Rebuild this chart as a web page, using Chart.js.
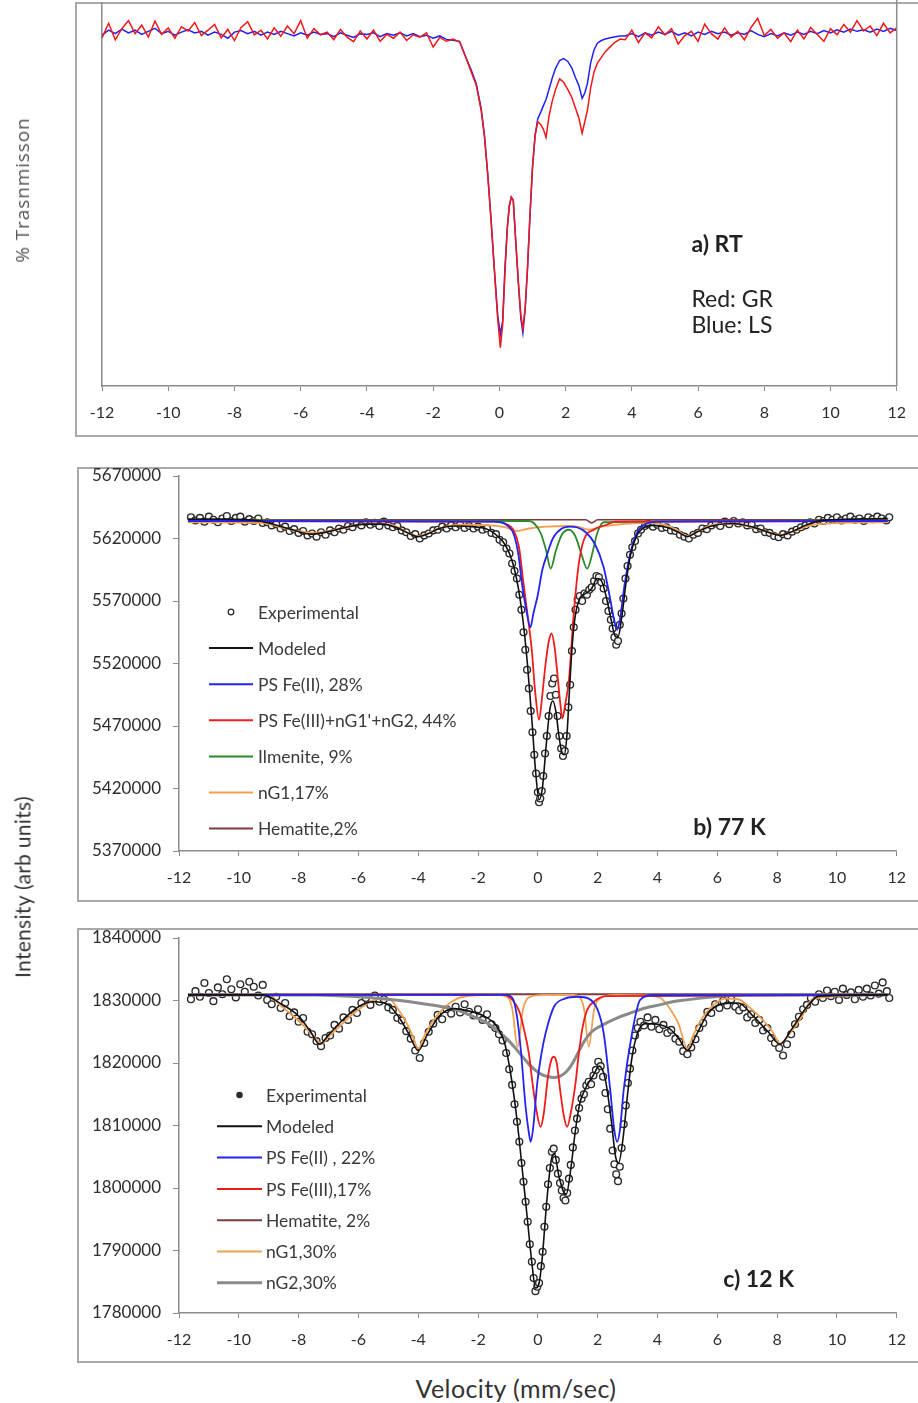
<!DOCTYPE html>
<html>
<head>
<meta charset="utf-8">
<script src="https://cdn.jsdelivr.net/npm/chart.js@4.4.1/dist/chart.umd.min.js"></script>
<style>
   html, body { margin: 0; padding: 0; background: #fff; }
   body { width: 918px; height: 1403px; position: relative; overflow: hidden; font-family: Lato, sans-serif; }
   .frame { position: absolute; border: 2px solid #a9a9a9; box-sizing: border-box; }
   canvas { position: absolute; left: 0; }
   .title { position: absolute; color: #333; white-space: nowrap; }
   .vert { transform: translate(-50%, -50%) rotate(-90deg); }
</style>
</head>
<body>
<div class="frame" style="left:75px; top:2px; width:900px; height:435px"></div>
<div class="frame" style="left:77px; top:467px; width:900px; height:435px"></div>
<div class="frame" style="left:77px; top:928px; width:900px; height:435px"></div>
<canvas id="chart-a" width="918" height="440" style="top:0"></canvas>
<canvas id="chart-b" width="918" height="435" style="top:468px"></canvas>
<canvas id="chart-c" width="918" height="435" style="top:929px"></canvas>
<div class="title vert" style="left:22px; top:190px; font-family:'Open Sans'; font-size:19px; letter-spacing:0.9px; color:#555">% Trasnmisson</div>
<div class="title vert" style="left:22px; top:887px; font-size:21px; letter-spacing:0.3px">Intensity (arb units)</div>
<div class="title" style="left:516px; top:1388px; transform:translate(-50%,-50%); font-size:25px; letter-spacing:0.4px">Velocity (mm/sec)</div>
<script>
// ---------- a) RT : % transmission (arbitrary scale) ----------
const velA = [
   -12, -11.8, -11.6, -11.4, -11.2, -11, -10.8, -10.6, -10.4, -10.2,
   -10, -9.8, -9.6, -9.4, -9.2, -9, -8.8, -8.6, -8.4, -8.2,
   -8, -7.8, -7.6, -7.4, -7.2, -7, -6.8, -6.6, -6.4, -6.2,
   -6, -5.8, -5.6, -5.4, -5.2, -5, -4.8, -4.6, -4.4, -4.2,
   -4, -3.8, -3.6, -3.4, -3.2, -3, -2.8, -2.6, -2.4, -2.2,
   -2, -1.8, -1.6, -1.4,
   -1.2, -1.0, -0.85, -0.7, -0.55, -0.45, -0.35, -0.25, -0.15, -0.05,
   0.03, 0.1, 0.17, 0.24, 0.3, 0.36, 0.42, 0.5, 0.58, 0.65,
   0.71, 0.78, 0.85, 0.92, 1.0, 1.08, 1.16, 1.25, 1.33, 1.41,
   1.5, 1.6, 1.7, 1.82, 1.94, 2.06, 2.18, 2.3, 2.4, 2.5,
   2.58, 2.66, 2.76, 2.86, 2.96, 3.08, 3.2, 3.35, 3.5, 3.65,
   3.8, 4, 4.2, 4.4, 4.6, 4.8, 5, 5.2, 5.4, 5.6,
   5.8, 6, 6.2, 6.4, 6.6, 6.8, 7, 7.2, 7.4, 7.6,
   7.8, 8, 8.2, 8.4, 8.6, 8.8, 9, 9.2, 9.4, 9.6,
   9.8, 10, 10.2, 10.4, 10.6, 10.8, 11, 11.2, 11.4, 11.6,
   11.8, 12,
];
const transRed = [
   90.9, 94.7, 90.4, 93.3, 95.4, 92.0, 94.2, 91.1, 95.3, 91.8,
   93.5, 90.8, 93.8, 92.7, 94.9, 91.5, 92.9, 94.4, 90.9, 93.1,
   90.2, 93.6, 95.1, 91.7, 92.9, 90.6, 93.5, 91.3, 94.0, 92.0,
   95.4, 90.8, 93.3, 91.7, 92.4, 90.4, 93.1, 91.1, 89.9, 92.7,
   90.6, 92.9, 90.0, 91.8, 90.8, 92.4, 90.2, 91.7, 91.1, 92.2,
   88.5, 91.0, 90.0, 90.6,
   89.8, 85.5, 82.0, 78.6, 72.0, 65.0, 55.0, 43.0, 30.0, 17.5,
   10.0, 16.0, 30.0, 41.0, 47.0, 49.3, 48.5, 37.0, 26.5, 18.5,
   15.0, 20.5, 31.0, 44.0, 57.0, 65.5, 69.0, 68.3, 67.0, 64.9,
   70.5, 74.5, 77.5, 80.2, 79.3, 77.5, 75.5, 72.5, 70.0, 66.0,
   69.0, 72.0, 78.0, 82.0, 84.3, 85.8, 87.3, 88.6, 89.8, 90.6,
   90.4, 92.9, 89.7, 92.2, 90.9, 93.8, 91.7, 93.3, 89.3, 91.5,
   92.6, 90.0, 94.5, 92.0, 90.6, 93.5, 91.1, 92.6, 90.4, 93.6,
   96.0, 91.5, 93.1, 90.8, 92.2, 89.9, 92.9, 90.6, 93.6, 91.8,
   90.0, 93.3, 91.7, 94.4, 92.4, 95.4, 92.7, 94.0, 91.5, 94.7,
   92.2, 93.5,
];
const transBlue = [
   91.6, 92.9, 92.0, 93.2, 92.2, 92.9, 91.8, 92.6, 93.4, 92.0,
   92.6, 91.6, 92.4, 93.0, 92.2, 92.6, 91.6, 92.4, 91.8, 90.8,
   92.4, 92.8, 92.0, 92.6, 91.6, 92.4, 91.8, 92.6, 92.0, 91.4,
   92.2, 91.6, 92.4, 91.8, 92.0, 91.2, 92.2, 91.6, 91.0, 92.0,
   91.8, 92.2, 91.2, 92.0, 91.6, 92.2, 91.4, 92.0, 91.2, 91.6,
   90.8, 91.4, 90.5, 90.3,
   90.0, 85.6, 82.5, 79.0, 72.5, 65.5, 55.3, 43.5, 30.5, 18.5,
   13.5, 17.0, 31.0, 41.5, 47.0, 49.3, 48.5, 37.0, 26.0, 17.5,
   13.9, 20.0, 30.5, 43.5, 57.0, 65.5, 69.8, 71.5, 73.2, 74.8,
   77.5, 80.5, 83.0, 85.0, 85.5, 84.8, 83.2, 80.5, 78.5, 75.1,
   76.5, 79.0, 84.5, 87.8, 89.5, 90.2, 90.6, 90.9, 91.2, 91.4,
   91.4, 92.0, 91.2, 92.2, 91.6, 92.4, 91.8, 92.6, 91.6, 92.2,
   91.4, 92.4, 91.8, 92.6, 92.0, 92.4, 91.6, 92.2, 91.8, 92.8,
   91.8, 91.2, 92.0, 91.4, 92.2, 91.6, 92.4, 91.8, 92.6, 92.0,
   92.8, 92.2, 93.0, 92.4, 93.2, 92.6, 93.0, 92.4, 93.2, 92.6,
   93.4, 92.8,
];

// ---------- b) 77 K ----------
const velExpB = [
   -11.6, -11.45, -11.3, -11.15, -11.0, -10.85, -10.7, -10.55, -10.4, -10.25,
   -10.1, -9.95, -9.8, -9.65, -9.5, -9.35, -9.2, -9.05, -8.9, -8.75,
   -8.6, -8.45, -8.3, -8.15, -8.0, -7.85, -7.7, -7.55, -7.4, -7.25,
   -7.1, -6.95, -6.8, -6.65, -6.5, -6.35, -6.2, -6.05, -5.9, -5.75,
   -5.6, -5.45, -5.3, -5.15, -5.0, -4.85, -4.7, -4.55, -4.4, -4.25,
   -4.1, -3.95, -3.8, -3.65, -3.5, -3.35, -3.2, -3.05, -2.9, -2.75,
   -2.6, -2.45, -2.3, -2.15, -2.0, -1.85, -1.7, -1.55, -1.4,
   -1.28, -1.16, -1.05, -0.95, -0.86, -0.78, -0.7, -0.62, -0.55, -0.48,
   -0.42, -0.36, -0.3, -0.24, -0.18, -0.12, -0.06, 0.0, 0.04, 0.08,
   0.13, 0.18, 0.24, 0.3, 0.36, 0.42, 0.48, 0.54, 0.6, 0.66,
   0.72, 0.78, 0.84, 0.9, 0.96, 1.02, 1.08, 1.14, 1.2, 1.26,
   1.33, 1.4, 1.48, 1.56, 1.64, 1.72, 1.8, 1.88, 1.96, 2.04,
   2.12, 2.2, 2.28, 2.36, 2.44, 2.5, 2.56, 2.62, 2.68, 2.74,
   2.8, 2.86, 2.93, 3.0, 3.08, 3.16, 3.25, 3.35, 3.45, 3.58,
   3.7, 3.85, 4.0, 4.15, 4.3, 4.45, 4.6, 4.75, 4.9, 5.05,
   5.2, 5.35, 5.5, 5.65, 5.8, 5.95, 6.1, 6.25, 6.4, 6.55,
   6.7, 6.85, 7.0, 7.15, 7.3, 7.45, 7.6, 7.75, 7.9, 8.05,
   8.2, 8.35, 8.5, 8.65, 8.8, 8.95, 9.1, 9.25, 9.4, 9.55,
   9.7, 9.85, 10.0, 10.15, 10.3, 10.45, 10.6, 10.75, 10.9, 11.05,
   11.2, 11.35, 11.5, 11.65, 11.75,
];
const countsExpB = [
   5637000, 5634500, 5636500, 5633500, 5637500, 5635000, 5633000, 5636000, 5638000, 5634000,
   5636500, 5637500, 5633500, 5635500, 5634000, 5636000, 5632500, 5633000, 5630500, 5631500,
   5628000, 5629500, 5626000, 5627500, 5624500, 5626000, 5622500, 5624000, 5621500, 5625000,
   5623000, 5626500, 5625000, 5628000, 5627000, 5630000, 5629000, 5632000, 5630500, 5633000,
   5631000, 5632500, 5630000, 5633500, 5630500, 5629000, 5630000, 5626500, 5625000, 5622000,
   5623500, 5620000, 5622500, 5624000, 5626500, 5627000, 5629500, 5628000, 5630500, 5629000,
   5631000, 5628500, 5630000, 5628000, 5629500, 5627000, 5628000, 5624500, 5623500,
   5619000, 5617000, 5612000, 5608000, 5600000, 5594000, 5588000, 5575000, 5563000, 5545000,
   5531000, 5515000, 5500000, 5482000, 5465000, 5447000, 5432000, 5417000, 5409000, 5412000,
   5418000, 5430000, 5448000, 5462000, 5478000, 5494000, 5504000, 5508000, 5495000, 5478000,
   5462000, 5452000, 5446000, 5450000, 5462000, 5485000, 5503000, 5530000, 5549000, 5563000,
   5571000, 5574000, 5570000, 5576000, 5575000, 5579000, 5581000, 5586000, 5590000, 5589000,
   5585000, 5580000, 5570000, 5562000, 5555000, 5548000, 5541000, 5535000, 5538000, 5551000,
   5560000, 5572000, 5588000, 5598000, 5607000, 5613000, 5618000, 5624000, 5627000, 5630000,
   5631500, 5629500, 5631000, 5628500, 5629000, 5626500, 5626000, 5623000, 5621500, 5620000,
   5623000, 5624500, 5628000, 5627500, 5630500, 5632000, 5630000, 5633500, 5631500, 5634000,
   5632000, 5633000, 5630500, 5631000, 5627500, 5628000, 5625000, 5624500, 5622000, 5621000,
   5623500, 5622500, 5625500, 5627000, 5629000, 5630500, 5633000, 5632000, 5635000, 5634000,
   5636500, 5635000, 5637000, 5634500, 5636000, 5637500, 5635000, 5636000, 5634000, 5637000,
   5635500, 5637500, 5636000, 5634500, 5637000,
];
const velModelB = [
   -11.7, -10.5, -9.3, -8.8, -8.2, -7.6, -7.0, -6.4, -5.8, -5.2,
   -4.7, -4.35, -4.0, -3.65, -3.3, -2.8, -2.2, -1.7, -1.4, -1.15,
   -0.95, -0.8, -0.65, -0.5, -0.35, -0.2, -0.08, 0.04, 0.15, 0.28,
   0.4, 0.5, 0.6, 0.7, 0.8, 0.88, 0.97, 1.06, 1.15, 1.25,
   1.4, 1.6, 1.8, 1.98, 2.15, 2.3, 2.45, 2.58, 2.68, 2.8,
   2.95, 3.1, 3.3, 3.5, 3.8, 4.3, 4.7, 5.0, 5.3, 5.8,
   6.5, 7.2, 7.7, 8.1, 8.5, 9.0, 9.5, 10.5, 11.7,
];
const countsModelB = [
   5635500, 5635500, 5634000, 5631000, 5627000, 5623500, 5625500, 5629000, 5631500, 5631500,
   5628500, 5624500, 5621500, 5624000, 5628000, 5630000, 5629500, 5627500, 5623000, 5617000,
   5608000, 5597000, 5580000, 5555000, 5520000, 5475000, 5435000, 5411000, 5420000, 5455000,
   5483000, 5490000, 5482000, 5463000, 5449000, 5447000, 5462000, 5500000, 5535000, 5558000,
   5572000, 5576000, 5580000, 5588000, 5585000, 5572000, 5555000, 5542000, 5541000, 5556000,
   5585000, 5607000, 5622000, 5628000, 5630500, 5629000, 5625000, 5621500, 5625000, 5630000,
   5632000, 5629000, 5625000, 5622500, 5625500, 5631000, 5634500, 5635500, 5636000,
];
const velFe2B = [-11.7, -1.5, -1.0, -0.8, -0.65, -0.52, -0.38, -0.25, -0.15, 0.0, 0.15, 0.32, 0.5, 0.8, 1.08, 1.3, 1.6, 1.9, 2.2, 2.4, 2.55, 2.65, 2.75, 2.9, 3.1, 3.3, 3.5, 4.0, 11.7];
const countsFe2B = [5634000, 5633500, 5630000, 5623000, 5607000, 5582000, 5562000, 5549000, 5560000, 5575000, 5595000, 5608000, 5620000, 5628000, 5629500, 5629000, 5625000, 5616000, 5597000, 5574000, 5555000, 5547000, 5556000, 5583000, 5609000, 5624000, 5630000, 5633500, 5634000];
const velFe3B = [-11.7, -1.4, -1.1, -0.8, -0.63, -0.5, -0.35, -0.2, -0.1, 0.04, 0.15, 0.25, 0.36, 0.46, 0.56, 0.66, 0.75, 0.82, 0.92, 1.04, 1.2, 1.37, 1.54, 1.87, 2.3, 2.6, 11.7];
const countsFe3B = [5634000, 5633500, 5632000, 5626000, 5613000, 5588000, 5560000, 5530000, 5500000, 5475000, 5495000, 5518000, 5537000, 5544000, 5533000, 5510000, 5488000, 5476000, 5488000, 5507000, 5560000, 5600000, 5619000, 5627000, 5631000, 5633500, 5634000];
const velIlmB = [-11.7, -0.3, -0.12, 0.1, 0.27, 0.43, 0.6, 0.8, 1.04, 1.25, 1.45, 1.65, 1.87, 1.98, 2.2, 11.7];
const countsIlmB = [5634500, 5634000, 5632000, 5624000, 5611000, 5596000, 5610000, 5623000, 5627000, 5622000, 5608000, 5596000, 5613000, 5624000, 5633000, 5634500];
const velNG1B = [-11.7, -9.2, -8.6, -8.0, -7.5, -7.0, -6.4, -5.8, -5.0, -4.6, -4.3, -4.0, -3.7, -3.3, -2.6, -1.6, -1.1, -0.7, -0.3, 0.3, 1.0, 1.4, 1.7, 2.1, 2.6, 3.6, 4.3, 4.7, 5.0, 5.3, 5.7, 6.5, 7.0, 7.6, 8.1, 8.6, 9.2, 11.7];
const countsNG1B = [5633000, 5632500, 5629000, 5626000, 5624500, 5626000, 5629000, 5631500, 5631500, 5628000, 5624000, 5622000, 5624000, 5628000, 5631000, 5630500, 5629000, 5626000, 5628000, 5629500, 5630000, 5629000, 5627000, 5629500, 5631000, 5632500, 5630500, 5626000, 5622000, 5625000, 5630000, 5632000, 5630000, 5626000, 5623000, 5626000, 5631000, 5633000];
const velHemB = [-11.7, 1.6, 1.8, 2.0, 11.7];
const countsHemB = [5635000, 5635000, 5632500, 5635000, 5635000];

// ---------- c) 12 K ----------
const velExpC = [
   -11.6, -11.45, -11.3, -11.15, -11.0, -10.85, -10.7, -10.55, -10.4, -10.25,
   -10.1, -9.95, -9.8, -9.65, -9.5, -9.35, -9.2, -9.05, -8.9, -8.75,
   -8.6, -8.45, -8.3, -8.15, -8.0, -7.85, -7.7, -7.55, -7.4, -7.25,
   -7.1, -6.95, -6.8, -6.65, -6.5, -6.35, -6.2, -6.05, -5.9, -5.75,
   -5.6, -5.45, -5.3, -5.15, -5.0, -4.85, -4.7, -4.55, -4.4, -4.25,
   -4.1, -3.95, -3.8, -3.65, -3.5, -3.35, -3.2, -3.05, -2.9, -2.75,
   -2.6, -2.45, -2.3, -2.15, -2.0, -1.85, -1.7, -1.55, -1.42, -1.3,
   -1.18, -1.06, -0.96, -0.86, -0.78, -0.7, -0.62, -0.55, -0.48, -0.41,
   -0.34, -0.27, -0.2, -0.14, -0.08, -0.02, 0.04, 0.1, 0.16, 0.22,
   0.28, 0.34, 0.4, 0.47, 0.53, 0.6, 0.67, 0.74, 0.8, 0.86,
   0.92, 0.98, 1.04, 1.1, 1.17, 1.24, 1.31, 1.38, 1.46, 1.54,
   1.62, 1.7, 1.78, 1.86, 1.94, 2.02, 2.1, 2.18, 2.26, 2.34,
   2.42, 2.5, 2.56, 2.62, 2.68, 2.74, 2.8, 2.87, 2.94, 3.01,
   3.08, 3.16, 3.25, 3.34, 3.43,
   3.55, 3.67, 3.8, 3.93, 4.06, 4.2, 4.33, 4.46, 4.6, 4.73,
   4.86, 5.0, 5.13, 5.27, 5.4, 5.53, 5.67, 5.8, 5.93, 6.07,
   6.2, 6.33, 6.47, 6.6, 6.73, 6.87, 7.0, 7.13, 7.27, 7.4,
   7.53, 7.67, 7.8, 7.93, 8.07, 8.2, 8.33, 8.47, 8.6, 8.73,
   8.87, 9.0, 9.13, 9.27, 9.4, 9.53, 9.67, 9.8, 9.93, 10.07,
   10.2, 10.33, 10.47, 10.6, 10.73, 10.87, 11.0, 11.13, 11.27, 11.4,
   11.53, 11.67, 11.75,
];
const countsExpC = [
   1830200, 1831500, 1830600, 1832800, 1831200, 1829900, 1832100, 1831000, 1833400, 1831800,
   1830500, 1832600, 1831400, 1833000, 1832200, 1830800, 1832500, 1830100, 1829400, 1830600,
   1828800, 1829600, 1827500, 1828100, 1826600, 1827200, 1825000, 1824600, 1823500, 1822700,
   1824000, 1824400, 1826100, 1825500, 1827300, 1826900, 1828500, 1828000, 1829600, 1830400,
   1829300, 1830800, 1829800, 1830200, 1828900, 1828500, 1827200, 1826800, 1825100, 1823900,
   1822000, 1820800, 1823200, 1825000, 1826300, 1827700, 1827000, 1828600, 1827900, 1829000,
   1828100, 1829400, 1828200, 1827600, 1828600, 1826900, 1827800, 1826200, 1825600, 1824600,
   1823600, 1821600, 1819000, 1816500, 1813400, 1810600, 1807400, 1804000, 1801000, 1797800,
   1794600, 1791000, 1788200, 1785600, 1783500, 1784200, 1784800, 1787500, 1789800, 1793800,
   1797000, 1800600, 1803200, 1805800, 1806300, 1804500, 1802300, 1800800, 1799600, 1798400,
   1798000, 1799200, 1801500, 1803700, 1806500, 1809200, 1811100, 1812800, 1814300, 1815000,
   1816400, 1817000, 1816600, 1818000, 1818900, 1820200, 1819500, 1817800, 1815200, 1812600,
   1809500, 1806000, 1803800, 1802200, 1801100, 1803400, 1806400, 1810200, 1813200, 1816800,
   1819100, 1822000, 1824400, 1825600, 1826600,
   1826000, 1827300, 1825800, 1826900, 1825400, 1826100, 1824800, 1825300, 1823900, 1823400,
   1821900, 1821400, 1822500, 1823800, 1825600, 1826400, 1828200, 1828000, 1829400, 1828800,
   1830000, 1829200, 1830200, 1829000, 1828400, 1828900, 1827300, 1827800, 1826400, 1826900,
   1825200, 1825600, 1824000, 1823200, 1822400, 1821200, 1823000, 1824600, 1826200, 1827400,
   1828600, 1829300, 1830400, 1829800, 1831000, 1830400, 1831600, 1830700, 1831400, 1830100,
   1831900, 1830900, 1831300, 1830200, 1831700, 1830600, 1831900, 1830800, 1832400, 1831100,
   1832900, 1831500, 1830400,
];
const velModelC = [
   -11.7, -9.2, -8.6, -8.0, -7.6, -7.3, -7.0, -6.5, -6.0, -5.5,
   -5.0, -4.6, -4.3, -4.0, -3.7, -3.3, -2.8, -2.3, -1.8, -1.4,
   -1.1, -0.9, -0.7, -0.5, -0.35, -0.2, -0.08, 0.05, 0.15, 0.3,
   0.45, 0.55, 0.7, 0.85, 0.95, 1.1, 1.25, 1.4, 1.6, 1.85,
   2.05, 2.25, 2.45, 2.6, 2.7, 2.85, 3.0, 3.15, 3.35, 3.6,
   4.0, 4.4, 4.7, 5.0, 5.3, 5.7, 6.2, 6.7, 7.2, 7.7,
   8.1, 8.5, 9.0, 9.4, 11.7,
];
const countsModelC = [
   1830900, 1830900, 1829500, 1827500, 1825000, 1823000, 1824500, 1827000, 1829000, 1829800,
   1829300, 1827000, 1824500, 1822000, 1824500, 1827500, 1828700, 1828300, 1827500, 1826000,
   1823000, 1818000, 1811000, 1802000, 1795000, 1788000, 1784000, 1785000, 1789000, 1798000,
   1804500, 1805500, 1802000, 1799500, 1799000, 1803000, 1809000, 1813500, 1816000, 1818000,
   1819500, 1817500, 1811000, 1805000, 1804000, 1808000, 1815000, 1821000, 1825000, 1826300,
   1826200, 1825500, 1824000, 1822000, 1824500, 1828000, 1829500, 1829600, 1827500, 1825000,
   1823000, 1825500, 1829000, 1830700, 1830900,
];
const velFe2C = [-11.7, -1.1, -0.85, -0.7, -0.57, -0.41, -0.3, -0.24, -0.16, -0.02, 0.12, 0.26, 0.54, 0.9, 1.31, 1.7, 2.0, 2.2, 2.42, 2.55, 2.65, 2.75, 2.87, 3.15, 3.42, 3.8, 11.7];
const countsFe2C = [1830900, 1830900, 1830400, 1827500, 1822100, 1813000, 1808800, 1807400, 1809500, 1816800, 1821500, 1824800, 1829000, 1830300, 1830600, 1830300, 1828500, 1824800, 1815700, 1809500, 1807400, 1809500, 1815700, 1824800, 1830100, 1830800, 1830900];
const velFe3C = [-11.7, -1.12, -0.8, -0.6, -0.46, -0.3, -0.18, -0.05, 0.09, 0.2, 0.33, 0.45, 0.54, 0.63, 0.75, 0.87, 0.98, 1.1, 1.26, 1.37, 1.48, 1.65, 1.87, 2.3, 11.7];
const countsFe3C = [1830900, 1830900, 1829800, 1828000, 1825300, 1821500, 1816800, 1812500, 1809800, 1812000, 1817500, 1820500, 1821000, 1820000, 1815500, 1811500, 1809800, 1812000, 1816800, 1821500, 1825300, 1828500, 1829800, 1830700, 1830900];
const velHemC = [-11.7, 11.7];
const countsHemC = [1831000, 1831000];
const velNG1C = [
   -11.7, -9.0, -8.6, -8.2, -7.8, -7.5, -7.23, -7.0, -6.6, -6.2,
   -5.8, -5.4, -5.0, -4.7, -4.4, -4.2, -4.0, -3.8, -3.5, -3.1,
   -2.7, -2.2, -1.4, -1.0, -0.85, -0.68, -0.5, -0.3, 0.2, 1.2,
   1.4, 1.55, 1.7, 1.88, 2.1, 2.6, 3.6, 4.1, 4.4, 4.7,
   5.0, 5.2, 5.5, 5.9, 6.3, 6.7, 7.1, 7.5, 7.85, 8.1,
   8.4, 8.8, 9.2, 11.7,
];
const countsNG1C = [
   1830900, 1830900, 1829200, 1827600, 1825800, 1824300, 1823100, 1824200, 1826000, 1827800,
   1829200, 1830200, 1830300, 1828800, 1826500, 1824500, 1822300, 1824300, 1826800, 1829000,
   1830300, 1830800, 1830900, 1830500, 1828500, 1822600, 1828500, 1830500, 1830900, 1830900,
   1830500, 1828500, 1822600, 1828500, 1830400, 1830900, 1830800, 1830400, 1828800, 1826300,
   1822300, 1824500, 1827200, 1829400, 1830300, 1830200, 1828800, 1827000, 1825000, 1823100,
   1824600, 1827200, 1830300, 1830900,
];
const velNG2C = [
   -11.7, -7.4, -6.0, -5.0, -4.0, -3.2, -2.6, -2.1, -1.7, -1.38,
   -1.0, -0.65, -0.35, -0.1, 0.15, 0.35, 0.55, 0.75, 0.95, 1.1,
   1.3, 1.53, 1.8, 2.25, 2.7, 3.16, 3.6, 4.07, 4.5, 4.97,
   5.7, 6.43, 7.0, 11.7,
];
const countsNG2C = [
   1830900, 1830900, 1830600, 1830200, 1829600, 1829000, 1828300, 1827300, 1826400, 1825300,
   1823700, 1821800, 1820100, 1818900, 1818100, 1817800, 1817700, 1817900, 1818600, 1819500,
   1821200, 1823300, 1825000, 1826300, 1827300, 1828100, 1828800, 1829300, 1829800, 1830100,
   1830500, 1830800, 1830900, 1830900,
];

// ---------- helpers ----------
const AXIS_GREY = "#8c8c8c";
Chart.defaults.font.family = "Lato";
Chart.defaults.color = "#333";

const pts = (xs, ys) => xs.map((x, i) => ({ x, y: ys[i] }));

const line = (label, xs, ys, color, width, order, smooth = true) => ({
   label,
   data: pts(xs, ys),
   showLine: true,
   borderColor: color,
   backgroundColor: color,
   borderWidth: width,
   pointRadius: 0,
   tension: 0,
   cubicInterpolationMode: smooth ? "monotone" : "default",
   order,
});

const experimental = (xs, ys) => ({
   label: "Experimental",
   data: pts(xs, ys),
   showLine: false,
   pointRadius: 3.4,
   pointBorderWidth: 1.4,
   pointBorderColor: "#2b2b2b",
   pointBackgroundColor: "rgba(255,255,255,0.85)",
   order: 20,
});

const xAxis = (height) => ({
   type: "linear",
   min: -12,
   max: 12,
   afterFit: (scale) => { scale.height = height; },
   border: { display: true, color: AXIS_GREY, width: 1.5 },
   grid: { drawOnChartArea: false, drawTicks: true, tickLength: 5, color: AXIS_GREY },
   ticks: { stepSize: 2, color: "#2e2e2e", font: { size: 16 }, padding: 12, maxRotation: 0 },
});

const yAxis = (min, max, step, width, labels) => ({
   type: "linear",
   min,
   max,
   afterFit: (scale) => {
      scale.width = width;
      scale.paddingTop = 0;
      scale.paddingBottom = 0;
   },
   border: { display: true, color: AXIS_GREY, width: 1.5 },
   grid: { drawOnChartArea: false, drawTicks: labels, tickLength: 6, color: AXIS_GREY },
   ticks: {
      display: labels,
      stepSize: step,
      color: "#2e2e2e",
      font: { size: 17 },
      padding: 12,
      callback: (v) => String(v),
   },
});

// texts, inner legend and panel edge
const notesPlugin = {
   id: "notes",
   afterDatasetsDraw(chart, args, opts) {
      const { ctx, chartArea, scales } = chart;
      ctx.save();
      ctx.textBaseline = "middle";
      ctx.textAlign = "left";

      (opts.texts || []).forEach((t) => {
         ctx.font = t.font;
         ctx.fillStyle = "#222";
         ctx.fillText(t.text, scales.x.getPixelForValue(t.x), scales.y.getPixelForValue(t.y));
      });

      const lg = opts.legend;
      if (lg) {
         lg.items.forEach((index, i) => {
            const ds = chart.data.datasets[index];
            const y = chartArea.top + lg.top + i * lg.gap;
            const x0 = chartArea.left + lg.left;
            if (ds.showLine === false) {
               ctx.beginPath();
               ctx.arc(x0 + lg.lineLength / 2, y, lg.dot ? 2.6 : 2.8, 0, Math.PI * 2);
               ctx.fillStyle = lg.dot ? "#2b2b2b" : "#fff";
               ctx.fill();
               ctx.lineWidth = 1.3;
               ctx.strokeStyle = "#2b2b2b";
               ctx.stroke();
            } else {
               ctx.beginPath();
               ctx.moveTo(x0, y);
               ctx.lineTo(x0 + lg.lineLength, y);
               ctx.lineWidth = Math.max(ds.borderWidth, 2);
               ctx.strokeStyle = ds.borderColor;
               ctx.stroke();
            }
            ctx.font = lg.font;
            ctx.fillStyle = "#3a3a3a";
            ctx.fillText(ds.label, x0 + lg.lineLength + lg.textGap, y + 1);
         });
      }

      if (opts.rightEdge) {
         ctx.beginPath();
         ctx.moveTo(chartArea.right, 0);
         ctx.lineTo(chartArea.right, chartArea.bottom);
         ctx.lineWidth = 1.5;
         ctx.strokeStyle = AXIS_GREY;
         ctx.stroke();
      }
      ctx.restore();
   },
};

const baseOptions = (scales, padding, notes) => ({
   responsive: false,
   animation: false,
   events: [],
   layout: { padding },
   scales,
   plugins: {
      legend: { display: false },
      tooltip: { enabled: false },
      notes,
   },
});

// ---------- a) RT ----------
new Chart(document.getElementById("chart-a").getContext("2d"), {
   type: "scatter",
   data: {
      datasets: [
         line("Red: GR", velA, transRed, "#f01818", 1.5, 1, false),
         line("Blue: LS", velA, transBlue, "#2020f0", 1.5, 2, false),
      ],
   },
   options: baseOptions(
      { x: xAxis(54), y: yAxis(0, 100, 10, 102, false) },
      { top: 3, right: 19, left: 0, bottom: 0 },
      {
         rightEdge: true,
         texts: [
            { text: "a) RT", x: 5.8, y: 36.8, font: "bold 23px Lato" },
            { text: "Red: GR", x: 5.8, y: 22.5, font: "23px Lato" },
            { text: "Blue: LS", x: 5.8, y: 15.7, font: "23px Lato" },
         ],
      }
   ),
   plugins: [notesPlugin],
});

// ---------- b) 77 K ----------
new Chart(document.getElementById("chart-b").getContext("2d"), {
   type: "scatter",
   data: {
      datasets: [
         experimental(velExpB, countsExpB),
         line("Modeled", velModelB, countsModelB, "#111", 1.6, 1),
         line("PS Fe(II), 28%", velFe2B, countsFe2B, "#2424f0", 1.8, 2),
         line("PS Fe(III)+nG1'+nG2, 44%", velFe3B, countsFe3B, "#f01c1c", 1.8, 3),
         line("Ilmenite, 9%", velIlmB, countsIlmB, "#2a8a2a", 1.8, 4),
         line("nG1,17%", velNG1B, countsNG1B, "#f0a050", 1.8, 5),
         line("Hematite,2%", velHemB, countsHemB, "#7a3c3c", 1.6, 6),
      ],
   },
   options: baseOptions(
      { x: xAxis(52), y: yAxis(5370000, 5670000, 50000, 179, true) },
      { top: 8, right: 17, left: 0, bottom: 0 },
      {
         texts: [{ text: "b) 77 K", x: 5.2, y: 5389000, font: "bold 23px Lato" }],
         legend: { items: [0, 1, 2, 3, 4, 5, 6], left: 30, top: 136, gap: 36.1, lineLength: 44, textGap: 5, font: "17.5px Lato", dot: false },
      }
   ),
   plugins: [notesPlugin],
});

// ---------- c) 12 K ----------
new Chart(document.getElementById("chart-c").getContext("2d"), {
   type: "scatter",
   data: {
      datasets: [
         experimental(velExpC, countsExpC),
         line("Modeled", velModelC, countsModelC, "#111", 1.6, 1),
         line("PS Fe(II) , 22%", velFe2C, countsFe2C, "#2424f0", 1.8, 2),
         line("PS Fe(III),17%", velFe3C, countsFe3C, "#f01c1c", 1.8, 3),
         line("Hematite, 2%", velHemC, countsHemC, "#7a3c3c", 1.8, 6),
         line("nG1,30%", velNG1C, countsNG1C, "#f0a050", 1.8, 5),
         line("nG2,30%", velNG2C, countsNG2C, "#8a8a8a", 3, 4),
      ],
   },
   options: baseOptions(
      { x: xAxis(51), y: yAxis(1780000, 1840000, 10000, 179, true) },
      { top: 9, right: 17, left: 0, bottom: 0 },
      {
         texts: [{ text: "c) 12 K", x: 6.2, y: 1785300, font: "bold 23px Lato" }],
         legend: { items: [0, 1, 2, 3, 4, 5, 6], left: 38, top: 157, gap: 31.3, lineLength: 45, textGap: 4, font: "17.5px Lato", dot: true },
      }
   ),
   plugins: [notesPlugin],
});
</script>
</body>
</html>
